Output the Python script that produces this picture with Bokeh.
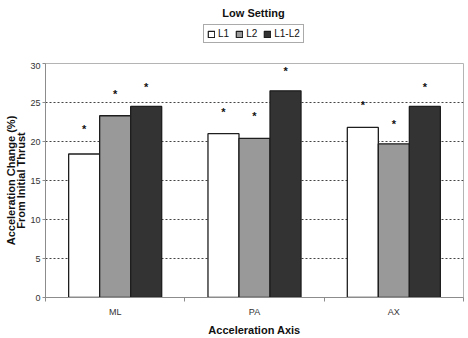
from bokeh.plotting import figure
from bokeh.layouts import column
from bokeh.models import FixedTicker, Legend, LegendItem, Label, Range1d
from bokeh.core.properties import value
from bokeh.embed import file_html
from bokeh.resources import INLINE

# Acceleration change (%) from initial thrust, low setting
axes_names = ["ML", "PA", "AX"]
series_names = ["L1", "L2", "L1-L2"]
l1 = [18.4, 21.0, 21.8]
l2 = [23.3, 20.4, 19.7]
l1_l2 = [24.5, 26.5, 24.5]
# heights of the significance asterisks
star_l1 = [21.8, 24.1, 25.0]
star_l2 = [26.4, 23.5, 22.5]
star_l1_l2 = [27.3, 29.3, 27.3]
y_ticks = [0, 5, 10, 15, 20, 25, 30]

FONT = "Liberation Sans"
fills = ["#ffffff", "#999999", "#333333"]
edge = "#1e1e1e"
bar_w = 0.2226
offsets = [-bar_w, 0.0, bar_w]
series_vals = [l1, l2, l1_l2]
series_stars = [star_l1, star_l2, star_l1_l2]

centers = [i + 0.5 for i in range(len(axes_names))]
bounds = [float(i) for i in range(len(axes_names) + 1)]

# ---- header strip: title and legend (its frame lines up with the chart frame) ----
head = figure(width=468, height=62, x_range=Range1d(0, len(axes_names)),
              y_range=Range1d(100, 101), x_axis_type=None, y_axis_type=None,
              output_backend="svg", toolbar_location=None, min_border=0)
head.outline_line_color = None
head.grid.visible = False
head.background_fill_color = "white"
head.border_fill_color = "white"
head.add_layout(Label(x=208, y=50, x_units="screen", y_units="screen",
                      text="Low Setting", text_align="center", text_baseline="middle",
                      text_font=FONT, text_font_size="11px", text_font_style="bold",
                      text_color="#111111"))
items = []
for name, vals, fill, off in zip(series_names, series_vals, fills, offsets):
    # same series, outside this strip's y window: only the legend swatch shows
    r = head.vbar(x=[c + off for c in centers], top=vals, bottom=0, width=bar_w,
                  fill_color=fill, line_color=edge, line_width=1.2)
    items.append(LegendItem(label=name, renderers=[r]))
head.add_layout(Legend(items=items, orientation="horizontal", location=(158, 19),
                       glyph_width=8, glyph_height=8, label_height=10, label_width=0,
                       label_standoff=3, spacing=6, padding=3, margin=0,
                       label_text_font=FONT, label_text_font_size="10px",
                       label_text_color="#111111", border_line_color="#555555",
                       border_line_width=1, background_fill_alpha=1), "center")

# ---- main bar chart ----
p = figure(width=468, height=276, x_range=Range1d(0, len(axes_names)),
           y_range=Range1d(0, 30), output_backend="svg", toolbar_location=None,
           min_border_left=45, min_border_right=5, min_border_top=1,
           min_border_bottom=40)
p.background_fill_color = "white"
p.border_fill_color = "white"
p.outline_line_color = "#b4b4b4"
p.outline_line_width = 1

for vals, stars, fill, off in zip(series_vals, series_stars, fills, offsets):
    xs = [c + off for c in centers]
    p.vbar(x=xs, top=vals, bottom=0, width=bar_w, fill_color=fill,
           line_color=edge, line_width=1.3)
    p.text(x=xs, y=stars, text=["*"] * len(xs), text_align="center",
           text_baseline="middle", text_font=value(FONT), text_font_size="11px",
           text_font_style="bold", text_color="#111111", y_offset=2)

# grid
p.xgrid.visible = False
p.ygrid.ticker = FixedTicker(ticks=y_ticks)
p.ygrid.grid_line_color = "#444444"
p.ygrid.grid_line_dash = "2 2"
p.ygrid.grid_line_width = 1

# y axis
ya = p.yaxis[0]
ya.ticker = FixedTicker(ticks=y_ticks)
ya.axis_line_color = "#8c8c8c"
ya.major_tick_line_color = "#8c8c8c"
ya.major_tick_out = 3
ya.major_tick_in = 0
ya.minor_tick_line_color = None
ya.major_label_text_font = FONT
ya.major_label_text_font_size = "9px"
ya.major_label_text_color = "#333333"
ya.major_label_standoff = 2
ya.axis_label = "Acceleration Change (%)\nFrom Initial Thrust"
ya.axis_label_text_font = FONT
ya.axis_label_text_font_size = "11px"
ya.axis_label_text_font_style = "bold"
ya.axis_label_text_color = "#111111"
ya.axis_label_text_line_height = 0.88
ya.axis_label_standoff = 0

# x axis: labels at category centres, ticks at category boundaries
xa = p.xaxis[0]
xa.ticker = FixedTicker(ticks=centers, minor_ticks=bounds)
xa.major_label_overrides = {c: n for c, n in zip(centers, axes_names)}
xa.axis_line_color = "#8c8c8c"
xa.major_tick_line_color = None
xa.major_tick_out = 4
xa.major_tick_in = 0
xa.minor_tick_line_color = "#8c8c8c"
xa.minor_tick_out = 4
xa.minor_tick_in = 0
xa.major_label_text_font = FONT
xa.major_label_text_font_size = "9px"
xa.major_label_text_color = "#333333"
xa.major_label_standoff = 5
xa.axis_label = "Acceleration Axis"
xa.axis_label_text_font = FONT
xa.axis_label_text_font_size = "11px"
xa.axis_label_text_font_style = "bold"
xa.axis_label_text_color = "#111111"
xa.axis_label_standoff = 4

layout = column(head, p, spacing=0)
open("out.html", "w").write(file_html(layout, INLINE))
